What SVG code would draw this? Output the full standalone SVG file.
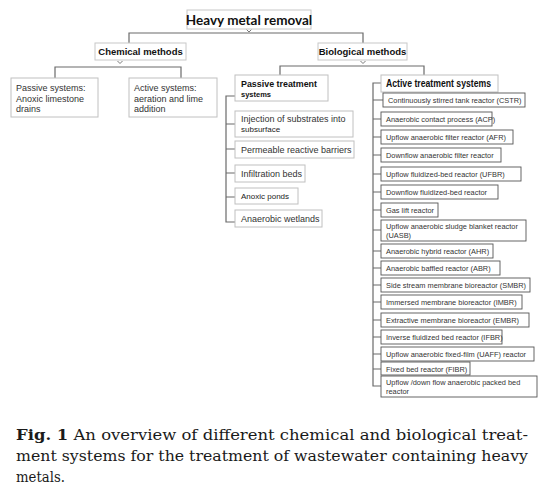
<svg xmlns="http://www.w3.org/2000/svg" width="542" height="504" viewBox="0 0 542 504">
<style>
.bg{fill:#fff}
.hb{fill:#fff;stroke:#c8c8c8;stroke-width:1}
.lb{fill:#fff;stroke:#c0c0c0;stroke-width:1}
.rb{fill:#fff;stroke:#555;stroke-width:0.9}
.ln{fill:none;stroke:#6a6a6a;stroke-width:1.2}
.cv{fill:none;stroke:#6a6a6a;stroke-width:0.9}
.t{font-family:"Liberation Sans",Arial,sans-serif;fill:#222}
.tb{font-family:"Liberation Sans",Arial,sans-serif;font-weight:bold;fill:#111}
.s{font-size:7.4px;fill:#333}
.m{font-size:9px;fill:#333}
.cap{font-family:"DejaVu Serif","Liberation Serif",serif;font-size:14.5px;fill:#1a1a1a}
</style>
<rect class="bg" x="0" y="0" width="542" height="504"/>

<g id="connectors">
  <path class="ln" d="M129,43 V33 H363 V43"/>
  <path class="cv" d="M246.5,29.5 L249,32 L251.5,29.5"/>
  <path class="ln" d="M55,78 V67 H181 V78"/>
  <path class="cv" d="M117.5,61 L120,63.5 L122.5,61"/>
  <path class="ln" d="M280,75 V66 H424 V75"/>
  <path class="cv" d="M360.5,61 L363,63.5 L365.5,61"/>
  <path class="ln" d="M235,96 H226 V222 H235 M226,124 H235 M226,149 H235 M226,173 H235 M226,197 H235"/>
  <path class="ln" d="M381,83 H373 V386 H381 M373,100 H383 M373,119 H381 M373,137 H381 M373,155 H381 M373,174 H381 M373,192 H381 M373,210 H381 M373,230 H381 M373,251 H381 M373,268 H381 M373,285 H381 M373,302 H381 M373,320 H381 M373,337 H381 M373,354 H381 M373,369 H381"/>
</g>

<g id="heavy-metal-removal">
  <rect class="hb" x="187" y="10" width="124" height="19"/>
  <text x="249" y="24.5" text-anchor="middle" style="font-family:Lato,'Liberation Sans',sans-serif;font-weight:bold;font-size:13.5px;fill:#111">Heavy metal removal</text>
</g>

<g id="chemical-methods">
  <rect class="hb" x="95" y="43" width="91" height="17"/>
  <text class="tb" x="140.5" y="55" text-anchor="middle" font-size="9.5">Chemical methods</text>
</g>
<g id="passive-systems">
  <rect class="lb" x="11" y="78" width="87" height="39"/>
  <text class="t m" x="16" y="91" font-size="9.5">Passive systems:</text>
  <text class="t m" x="16" y="101.5" font-size="9.5">Anoxic limestone</text>
  <text class="t m" x="16" y="112" font-size="9.5">drains</text>
</g>
<g id="active-systems">
  <rect class="lb" x="129" y="78" width="88" height="39"/>
  <text class="t m" x="134" y="91">Active systems:</text>
  <text class="t m" x="134" y="101.5">aeration and lime</text>
  <text class="t m" x="134" y="112">addition</text>
</g>

<g id="biological-methods">
  <rect class="hb" x="318" y="43" width="89" height="17"/>
  <text class="tb" x="362.5" y="55" text-anchor="middle" font-size="9.5">Biological methods</text>
</g>

<g id="passive-treatment-systems">
  <rect class="lb" x="235" y="75" width="93" height="26"/>
  <text class="tb" x="241" y="86.5" font-size="9.5" textLength="76" lengthAdjust="spacingAndGlyphs">Passive treatment</text>
  <text class="tb" x="241" y="96.5" font-size="7.5">systems</text>
</g>
<g id="injection">
  <rect class="lb" x="235" y="111" width="118" height="26"/>
  <text class="t m" x="241" y="121.5">Injection of substrates into</text>
  <text class="t" x="241" y="131.5" font-size="8" fill="#333">subsurface</text>
</g>
<g id="permeable-reactive-barriers">
  <rect class="lb" x="235" y="141" width="119" height="17"/>
  <text class="t m" x="241" y="152.5">Permeable reactive barriers</text>
</g>
<g id="infiltration-beds">
  <rect class="lb" x="235" y="165" width="70" height="17"/>
  <text class="t m" x="241" y="176.5">Infiltration beds</text>
</g>
<g id="anoxic-ponds">
  <rect class="lb" x="235" y="188" width="63" height="16"/>
  <text class="t" x="241" y="199" font-size="8" fill="#333">Anoxic ponds</text>
</g>
<g id="anaerobic-wetlands">
  <rect class="lb" x="235" y="210" width="87" height="17"/>
  <text class="t m" x="241" y="221.5">Anaerobic wetlands</text>
</g>

<g id="active-treatment-systems">
  <rect class="lb" x="381" y="75" width="117" height="17"/>
  <text class="tb" x="386" y="87" font-size="10" textLength="105" lengthAdjust="spacingAndGlyphs">Active treatment systems</text>
</g>
<g id="cstr"><rect class="rb" x="383" y="93" width="142" height="14"/><text class="t s" x="388" y="102.8">Continuously stirred tank reactor (CSTR)</text></g>
<g id="acp"><rect class="rb" x="381" y="112" width="111" height="14"/><text class="t s" x="386" y="121.8">Anaerobic contact process (ACP)</text></g>
<g id="afr"><rect class="rb" x="381" y="130" width="132" height="14"/><text class="t s" x="386" y="139.8">Upflow anaerobic filter reactor (AFR)</text></g>
<g id="dafr"><rect class="rb" x="381" y="148" width="120" height="14"/><text class="t s" x="386" y="157.8">Downflow anaerobic filter reactor</text></g>
<g id="ufbr"><rect class="rb" x="381" y="167" width="140" height="14"/><text class="t s" x="386" y="176.8">Upflow fluidized-bed  reactor (UFBR)</text></g>
<g id="dfbr"><rect class="rb" x="381" y="185" width="117" height="14"/><text class="t s" x="386" y="194.8">Downflow  fluidized-bed  reactor</text></g>
<g id="gas-lift"><rect class="rb" x="381" y="203" width="57" height="14"/><text class="t s" x="386" y="212.8">Gas lift reactor</text></g>
<g id="uasb"><rect class="rb" x="381" y="220" width="145" height="21"/><text class="t s" x="386" y="228.8">Upflow anaerobic sludge blanket reactor</text><text class="t s" x="386" y="237.8">(UASB)</text></g>
<g id="ahr"><rect class="rb" x="381" y="244" width="112" height="14"/><text class="t s" x="386" y="253.8">Anaerobic hybrid reactor (AHR)</text></g>
<g id="abr"><rect class="rb" x="381" y="261" width="119" height="14"/><text class="t s" x="386" y="270.8">Anaerobic baffled reactor (ABR)</text></g>
<g id="smbr"><rect class="rb" x="381" y="278" width="149" height="14"/><text class="t s" x="386" y="287.8">Side stream membrane bioreactor (SMBR)</text></g>
<g id="imbr"><rect class="rb" x="381" y="295" width="141" height="14"/><text class="t s" x="386" y="304.8">Immersed membrane bioreactor (IMBR)</text></g>
<g id="embr"><rect class="rb" x="381" y="313" width="148" height="14"/><text class="t s" x="386" y="322.8">Extractive membrane bioreactor (EMBR)</text></g>
<g id="ifbr"><rect class="rb" x="381" y="330" width="121" height="14"/><text class="t s" x="386" y="339.8">Inverse fluidized bed reactor (IFBR)</text></g>
<g id="uaff"><rect class="rb" x="381" y="347" width="153" height="14"/><text class="t s" x="386" y="356.8">Upflow anaerobic fixed-film (UAFF) reactor</text></g>
<g id="fibr"><rect class="rb" x="381" y="362" width="89" height="13"/><text class="t s" x="386" y="371.5">Fixed bed reactor (FIBR)</text></g>
<g id="updown"><rect class="rb" x="381" y="376" width="156" height="21"/><text class="t s" x="386" y="384.8">Upflow /down flow anaerobic packed  bed</text><text class="t s" x="386" y="393.8">reactor</text></g>

<g id="caption">
  <text class="cap" x="16" y="440" textLength="512" lengthAdjust="spacingAndGlyphs"><tspan font-weight="bold">Fig. 1</tspan>  An overview of different chemical and biological treat-</text>
  <text class="cap" x="16" y="461" textLength="512" lengthAdjust="spacingAndGlyphs">ment systems for the treatment of wastewater containing heavy</text>
  <text class="cap" x="16" y="482" textLength="49" lengthAdjust="spacingAndGlyphs">metals.</text>
</g>
</svg>
